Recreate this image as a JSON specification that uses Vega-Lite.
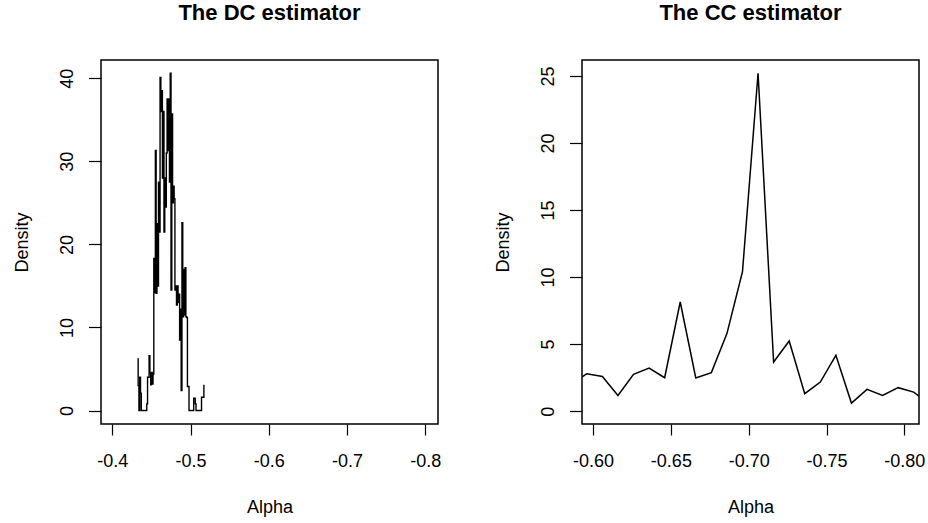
{
  "$schema": "https://vega.github.io/schema/vega-lite/v6.json",
  "autosize": {"type": "none"},
  "padding": {"left": 101, "top": 60, "right": 827, "bottom": 463},
  "background": "white",
  "spacing": 144,
  "bounds": "flush",
  "datasets": {
    "dc": [
      {"alpha": -0.432, "density": 6.2}, {"alpha": -0.433, "density": 3.0}, {"alpha": -0.434, "density": 0},
      {"alpha": -0.435, "density": 4.0}, {"alpha": -0.436, "density": 2.1}, {"alpha": -0.437, "density": 0},
      {"alpha": -0.438, "density": 0}, {"alpha": -0.439, "density": 0}, {"alpha": -0.44, "density": 0},
      {"alpha": -0.441, "density": 0}, {"alpha": -0.442, "density": 0}, {"alpha": -0.443, "density": 0},
      {"alpha": -0.444, "density": 0.8}, {"alpha": -0.445, "density": 4.0}, {"alpha": -0.446, "density": 4.0},
      {"alpha": -0.447, "density": 6.6}, {"alpha": -0.448, "density": 4.5}, {"alpha": -0.449, "density": 3.1},
      {"alpha": -0.45, "density": 4.6}, {"alpha": -0.451, "density": 3.2}, {"alpha": -0.452, "density": 4.4},
      {"alpha": -0.453, "density": 18.3}, {"alpha": -0.454, "density": 14.2}, {"alpha": -0.455, "density": 31.3},
      {"alpha": -0.456, "density": 14.1}, {"alpha": -0.457, "density": 22.5}, {"alpha": -0.458, "density": 15.0},
      {"alpha": -0.459, "density": 27.5}, {"alpha": -0.46, "density": 21.5}, {"alpha": -0.461, "density": 40.1},
      {"alpha": -0.462, "density": 36.0}, {"alpha": -0.463, "density": 38.5}, {"alpha": -0.464, "density": 28.0},
      {"alpha": -0.465, "density": 36.0}, {"alpha": -0.466, "density": 21.5}, {"alpha": -0.467, "density": 28.0},
      {"alpha": -0.468, "density": 24.5}, {"alpha": -0.469, "density": 31.0}, {"alpha": -0.47, "density": 37.5},
      {"alpha": -0.471, "density": 31.3}, {"alpha": -0.472, "density": 37.5}, {"alpha": -0.473, "density": 27.5},
      {"alpha": -0.474, "density": 40.6}, {"alpha": -0.475, "density": 14.5}, {"alpha": -0.476, "density": 35.7},
      {"alpha": -0.477, "density": 25.0}, {"alpha": -0.478, "density": 27.0}, {"alpha": -0.479, "density": 25.5},
      {"alpha": -0.48, "density": 14.5}, {"alpha": -0.481, "density": 15.0}, {"alpha": -0.482, "density": 12.7},
      {"alpha": -0.483, "density": 15.0}, {"alpha": -0.484, "density": 13.0}, {"alpha": -0.485, "density": 14.0},
      {"alpha": -0.486, "density": 8.5}, {"alpha": -0.487, "density": 12.2}, {"alpha": -0.488, "density": 2.4},
      {"alpha": -0.489, "density": 22.6}, {"alpha": -0.49, "density": 11.3}, {"alpha": -0.491, "density": 17.0},
      {"alpha": -0.492, "density": 11.5}, {"alpha": -0.493, "density": 17.2}, {"alpha": -0.494, "density": 11.3},
      {"alpha": -0.495, "density": 11.2}, {"alpha": -0.496, "density": 2.9}, {"alpha": -0.497, "density": 2.9},
      {"alpha": -0.498, "density": 0}, {"alpha": -0.499, "density": 0}, {"alpha": -0.5, "density": 0},
      {"alpha": -0.501, "density": 0}, {"alpha": -0.502, "density": 0}, {"alpha": -0.503, "density": 0},
      {"alpha": -0.504, "density": 1.5}, {"alpha": -0.505, "density": 1.5}, {"alpha": -0.506, "density": 0.8},
      {"alpha": -0.507, "density": 0}, {"alpha": -0.508, "density": 0}, {"alpha": -0.509, "density": 0},
      {"alpha": -0.51, "density": 0}, {"alpha": -0.511, "density": 0}, {"alpha": -0.512, "density": 0},
      {"alpha": -0.513, "density": 0}, {"alpha": -0.514, "density": 1.6}, {"alpha": -0.515, "density": 1.6},
      {"alpha": -0.516, "density": 1.6}, {"alpha": -0.517, "density": 3.1}
    ],
    "cc": [
      {"alpha": -0.586, "density": 2.0}, {"alpha": -0.596, "density": 2.79}, {"alpha": -0.606, "density": 2.59},
      {"alpha": -0.616, "density": 1.17}, {"alpha": -0.626, "density": 2.74}, {"alpha": -0.636, "density": 3.21},
      {"alpha": -0.646, "density": 2.49}, {"alpha": -0.656, "density": 8.14}, {"alpha": -0.666, "density": 2.47},
      {"alpha": -0.676, "density": 2.87}, {"alpha": -0.686, "density": 5.78}, {"alpha": -0.696, "density": 10.4},
      {"alpha": -0.706, "density": 25.2}, {"alpha": -0.716, "density": 3.66}, {"alpha": -0.726, "density": 5.23},
      {"alpha": -0.736, "density": 1.3}, {"alpha": -0.746, "density": 2.17}, {"alpha": -0.756, "density": 4.16},
      {"alpha": -0.766, "density": 0.6}, {"alpha": -0.776, "density": 1.62}, {"alpha": -0.786, "density": 1.17},
      {"alpha": -0.796, "density": 1.75}, {"alpha": -0.806, "density": 1.42}, {"alpha": -0.816, "density": 0.54}
    ]
  },
  "hconcat": [
    {
      "width": 337,
      "height": 364,
      "title": {"text": "The DC estimator", "frame": "group", "anchor": "middle", "baseline": "alphabetic", "offset": 18, "font": "Liberation Sans", "fontSize": 22, "fontWeight": "bold", "color": "black"},
      "data": {"name": "dc"},
      "mark": {"type": "line", "interpolate": "step-after", "color": "black", "strokeWidth": 1.4, "clip": true},
      "encoding": {
        "x": {"field": "alpha", "type": "quantitative",
              "scale": {"domain": [-0.8163, -0.3855], "reverse": true, "nice": false, "zero": false},
              "axis": {"values": [-0.4, -0.5, -0.6, -0.7, -0.8], "labelExpr": "replace(format(datum.value, '.1f'), '\u2212', '-')", "title": "Alpha"}},
        "y": {"field": "density", "type": "quantitative",
              "scale": {"domain": [-1.62, 42.2], "nice": false, "zero": false},
              "axis": {"values": [0, 10, 20, 30, 40], "labelExpr": "replace(format(datum.value, 'd'), '\u2212', '-')", "title": "Density"}},
        "order": {"field": "alpha", "sort": "descending"}
      }
    },
    {
      "width": 337,
      "height": 364,
      "title": {"text": "The CC estimator", "frame": "group", "anchor": "middle", "baseline": "alphabetic", "offset": 18, "font": "Liberation Sans", "fontSize": 22, "fontWeight": "bold", "color": "black"},
      "data": {"name": "cc"},
      "mark": {"type": "line", "color": "black", "strokeWidth": 1.5, "clip": true},
      "encoding": {
        "x": {"field": "alpha", "type": "quantitative",
              "scale": {"domain": [-0.8094, -0.5929], "reverse": true, "nice": false, "zero": false},
              "axis": {"values": [-0.6, -0.65, -0.7, -0.75, -0.8], "labelExpr": "replace(format(datum.value, '.2f'), '\u2212', '-')", "title": "Alpha"}},
        "y": {"field": "density", "type": "quantitative",
              "scale": {"domain": [-0.96, 26.19], "nice": false, "zero": false},
              "axis": {"values": [0, 5, 10, 15, 20, 25], "labelExpr": "replace(format(datum.value, 'd'), '\u2212', '-')", "title": "Density"}},
        "order": {"field": "alpha", "sort": "descending"}
      }
    }
  ],
  "config": {
    "view": {"stroke": "black", "strokeWidth": 1.5},
    "axis": {"domain": false, "grid": false, "tickColor": "black", "tickWidth": 1.2,
             "labelColor": "black", "labelFont": "Liberation Sans", "labelFontSize": 18,
             "titleColor": "black", "titleFont": "Liberation Sans", "titleFontSize": 18, "titleFontWeight": "normal"},
    "axisX": {"tickSize": 11, "labelPadding": 31.5, "labelBaseline": "alphabetic", "labelAlign": "center", "labelAngle": 0, "labelOverlap": false,
              "titleY": 88, "titleBaseline": "alphabetic"},
    "axisY": {"tickSize": 12.5, "labelPadding": 16.5, "labelBaseline": "alphabetic", "labelAlign": "center", "labelAngle": -90, "labelOverlap": false,
              "titleX": -74, "titleY": 182, "titleBaseline": "alphabetic", "titleAngle": -90, "titleAlign": "center"}
  }
}
